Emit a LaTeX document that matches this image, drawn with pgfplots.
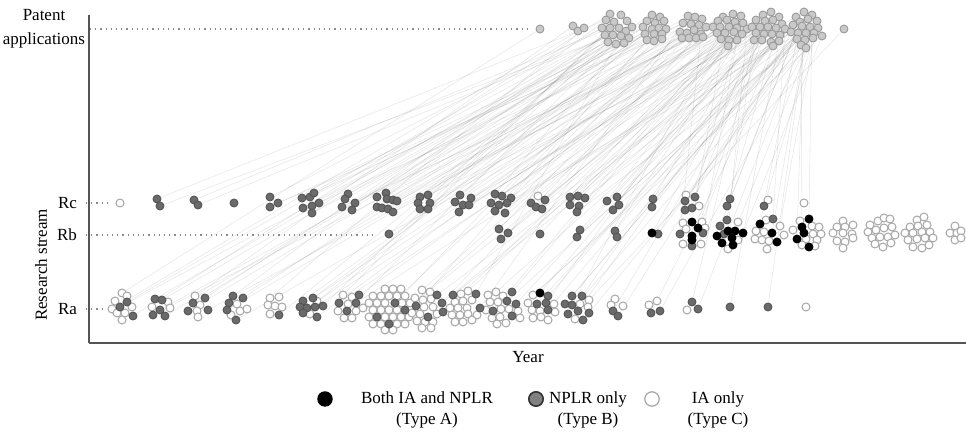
\documentclass[border=0pt]{standalone}
\usepackage{pgfplots}
\pgfplotsset{compat=1.18}
\usepackage{fontspec}
\setmainfont{Liberation Serif}
\definecolor{pfill}{HTML}{C9C9C9}
\definecolor{pedge}{HTML}{9A9A9A}
\definecolor{bfill}{HTML}{6A6A6A}
\definecolor{bedge}{HTML}{555555}
\definecolor{cedge}{HTML}{A6A6A6}
\definecolor{axcol}{HTML}{555555}
\definecolor{dotcol}{HTML}{8A8A8A}
\begin{document}
\begin{tikzpicture}
\begin{axis}[
  scale only axis, width=438.5pt, height=164pt,
  xmin=89, xmax=966, ymin=89, ymax=417,
  axis lines=left, axis line style={-, draw=axcol, line width=0.6pt},
  xtick=\empty, ytick=\empty, clip=false,
  font=\fontsize{8.5}{10}\selectfont,
]
% connecting lines (research item -> patent application)
\addplot[quiver={u=\thisrow{x2}-\thisrow{x1}, v=\thisrow{y1}-\thisrow{y2},
  every arrow/.append style={draw=black, opacity=0.09, line width=0.3pt}},
  draw=black, opacity=0.09, line width=0.3pt]
 table[x=x1, y expr=432-\thisrow{y1}] {
x1 y1 x2 y2
157 199 606 20
160 206 613 35
194 200 610 28
198 205 647 21
270 197 614 22
270 207 652 29
278 203 691 24
302 198 619 28
310 197 659 28
314 193 683 23
319 203 723 17
303 208 626 31
312 213 654 34
348 194 621 36
345 199 664 21
355 203 701 34
342 207 729 27
352 210 605 35
377 197 632 27
386 193 660 17
387 199 694 30
393 200 718 21
397 201 756 20
377 207 645 34
382 208 689 38
388 209 725 33
393 212 764 34
420 197 627 21
428 195 662 34
418 203 699 25
430 203 735 22
420 209 760 27
428 209 608 42
460 195 655 23
455 202 687 33
463 205 720 27
469 205 773 20
471 198 796 17
459 212 742 34
495 194 622 42
502 196 666 29
511 198 702 19
491 203 737 28
499 205 768 27
507 203 802 26
495 211 810 27
505 213 680 32
545 200 696 38
531 203 725 33
536 207 752 27
542 209 791 32
570 197 733 14
578 196 779 17
585 198 817 21
570 205 747 29
579 206 762 40
577 212 805 40
607 201 743 23
617 197 785 29
619 205 806 33
613 210 729 40
653 199 763 15
652 207 798 33
695 197 771 12
685 201 812 15
692 208 737 40
685 210 756 33
730 199 800 22
727 206 773 46
764 206 813 38
127 302 602 28
120 307 643 27
133 316 610 14
155 299 619 28
162 300 652 15
160 310 683 23
153 315 713 27
165 316 616 44
205 298 627 21
193 303 660 17
188 311 688 16
208 310 717 33
233 296 606 20
243 298 645 34
229 303 680 32
227 310 723 17
236 320 752 27
279 315 632 27
303 301 662 39
313 298 695 17
300 307 720 27
307 308 741 16
315 307 756 20
323 306 610 28
303 313 652 29
317 317 701 34
359 295 734 32
339 303 765 21
356 303 793 25
347 311 626 31
395 303 654 34
377 317 691 24
389 324 729 27
405 310 760 27
437 295 800 22
416 306 647 40
428 317 706 27
443 312 743 23
442 303 776 28
453 295 808 19
476 294 621 36
480 308 683 23
512 292 737 28
516 304 768 27
507 301 797 39
512 316 818 28
493 311 721 39
540 293 754 40
548 296 796 17
537 304 804 12
546 303 737 40
548 310 780 35
572 296 812 15
582 296 762 40
565 304 798 33
572 305 727 20
578 311 782 24
568 314 814 33
589 313 806 48
613 311 771 42
618 316 802 26
651 313 791 32
660 311 818 28
692 302 756 33
698 309 801 45
730 307 779 41
768 307 805 40
122 293 540 29
112 309 578 31
195 296 573 26
270 298 584 28
343 295 621 15
422 290 733 14
468 291 763 15
496 292 773 46
533 295 822 36
589 300 844 29
389 234 605 35
499 229 694 30
508 233 729 40
501 239 760 27
540 234 734 32
580 230 764 34
577 237 806 33
615 231 742 34
617 237 810 27
652 233 768 27
658 234 801 45
692 222 725 33
698 228 762 40
680 234 701 34
703 233 737 40
692 246 773 46
727 220 756 33
720 226 800 22
728 231 747 29
735 231 814 33
743 233 822 36
760 224 797 39
773 219 785 29
772 233 805 40
809 219 812 15
802 227 801 45
797 239 804 12
777 242 817 21
};
% dotted guide lines
\addplot[dotted, draw=dotcol, line width=0.6pt] coordinates {(90,403) (527,403)};
\addplot[dotted, draw=dotcol, line width=0.6pt] coordinates {(86,229) (108,229)};
\addplot[dotted, draw=dotcol, line width=0.6pt] coordinates {(86,197) (376,197)};
\addplot[dotted, draw=dotcol, line width=0.6pt] coordinates {(86,123) (102,123)};
% patent applications
\addplot[only marks, mark=*, mark size=2pt, mark options={fill=pfill, draw=pedge, line width=0.45pt}]
 table[y expr=432-\thisrow{y}] {
x y
540 29
573 26
578 31
584 28
610 14
621 15
606 20
614 22
627 21
602 28
610 28
619 28
626 31
632 27
605 35
613 35
621 36
629 38
608 42
616 44
624 43
652 15
660 17
647 21
655 23
664 21
643 27
652 29
659 28
666 29
645 34
654 34
662 34
647 40
654 41
662 39
688 16
695 17
702 19
683 23
691 24
699 25
706 27
680 32
687 33
694 30
701 34
682 38
689 38
696 38
703 37
723 17
733 14
741 16
718 21
727 20
735 22
743 23
713 27
720 27
729 27
737 28
747 29
717 33
725 33
734 32
742 34
721 39
729 40
737 40
728 46
763 15
771 12
779 17
756 20
765 21
773 20
782 24
752 27
760 27
768 27
776 28
785 29
756 33
764 34
772 34
780 35
754 40
762 40
771 42
779 41
773 46
796 17
804 12
812 15
800 22
808 19
817 21
793 25
802 26
810 27
818 28
791 32
798 33
806 33
814 33
822 36
797 39
805 40
813 38
801 45
806 48
844 29
};
% IA only (Type C)
\addplot[only marks, mark=*, mark size=2pt, mark options={fill=white, draw=cedge, line width=0.5pt}]
 table[y expr=432-\thisrow{y}] {
x y
120 203
538 196
686 195
699 206
768 200
804 203
122 293
127 296
115 301
112 309
132 307
117 313
125 313
122 320
168 302
152 307
170 308
195 296
200 305
197 311
198 317
237 304
240 311
247 309
231 315
270 298
279 297
268 305
275 306
282 307
270 314
317 301
310 314
343 295
352 297
348 304
363 308
338 311
356 311
344 318
352 318
385 289
393 289
401 289
373 296
381 296
389 296
397 296
405 296
369 303
377 303
385 303
402 303
410 303
373 310
381 310
389 310
397 310
369 317
385 317
393 317
401 317
409 317
373 324
381 324
397 324
405 324
385 330
393 330
422 290
430 292
415 298
423 300
431 299
424 307
433 307
412 313
420 314
437 314
417 321
425 322
433 322
422 328
431 328
461 294
468 291
455 302
463 301
472 300
450 308
458 308
467 308
452 315
460 315
468 314
477 315
455 322
463 322
472 320
488 295
496 292
503 296
490 302
498 302
486 310
501 309
509 309
518 311
492 318
500 317
506 323
497 324
520 318
533 295
528 303
554 304
532 310
540 311
555 312
533 318
541 317
548 320
589 300
580 304
588 307
575 319
615 299
611 305
623 306
657 301
649 305
687 310
806 307
683 223
702 222
686 229
683 244
701 244
705 228
738 222
738 240
728 249
766 220
780 226
756 231
764 232
784 235
755 239
762 240
769 241
767 249
800 221
812 226
819 227
813 234
821 234
806 239
817 240
802 245
815 246
793 230
843 221
837 227
845 227
853 225
833 233
843 233
852 234
837 241
845 242
853 238
843 248
870 225
878 221
884 218
890 219
868 232
876 230
884 228
892 227
872 238
880 237
888 237
895 235
875 244
883 247
891 243
917 220
924 217
910 227
918 226
927 225
905 233
913 233
922 232
930 232
908 240
917 239
925 238
933 238
913 247
922 248
929 245
955 226
950 233
957 233
961 231
955 240
961 238
};
% NPLR only (Type B)
\addplot[only marks, mark=*, mark size=2pt, mark options={fill=bfill, draw=bedge, line width=0.45pt}]
 table[y expr=432-\thisrow{y}] {
x y
157 199
160 206
194 200
198 205
234 203
270 197
270 207
278 203
302 198
310 197
314 193
319 203
303 208
312 206
312 213
348 194
345 199
355 203
342 207
352 210
377 197
386 193
387 199
393 200
397 201
377 207
382 208
388 209
393 212
420 197
428 195
418 203
430 203
420 209
428 209
460 195
455 202
463 205
469 205
471 198
459 212
495 194
502 196
511 198
491 203
499 205
507 203
495 211
505 213
545 200
531 203
536 207
542 209
570 197
578 196
585 198
570 205
579 206
577 212
607 201
617 197
619 205
613 210
653 199
652 207
695 197
685 201
692 208
685 210
730 199
727 206
764 206
389 234
499 229
508 233
501 239
540 234
580 230
577 237
615 231
617 237
658 234
680 234
703 233
692 246
727 220
720 226
724 234
773 219
127 302
120 307
133 316
155 299
162 300
160 310
153 315
165 316
205 298
193 303
188 311
208 310
233 296
243 298
229 303
227 310
236 320
279 315
303 301
313 298
300 307
307 308
315 307
323 306
303 313
317 317
359 295
339 303
356 303
347 311
395 303
405 310
377 317
389 324
437 295
442 303
416 306
428 317
443 312
453 295
476 294
480 308
512 292
507 301
516 304
493 311
512 316
548 296
537 304
546 303
548 310
572 296
582 296
565 304
572 305
568 314
578 311
589 313
583 320
613 311
618 316
651 313
660 311
692 302
698 309
730 307
768 307
};
% Both IA and NPLR (Type A)
\addplot[only marks, mark=*, mark size=2pt, mark options={fill=black, draw=black, line width=0.45pt}]
 table[y expr=432-\thisrow{y}] {
x y
540 293
652 233
692 222
698 228
692 236
692 240
728 231
735 231
743 233
717 236
732 238
722 243
733 245
760 224
772 233
777 242
809 219
802 227
804 233
797 239
809 247
};
% legend markers
\addplot[only marks, mark=*, mark size=3.6pt, mark options={fill=black, draw=black, line width=0.5pt}] coordinates {(325,33)};
\addplot[only marks, mark=*, mark size=3.6pt, mark options={fill=bfill!85, draw=black!80, line width=0.8pt}] coordinates {(536,33)};
\addplot[only marks, mark=*, mark size=3.6pt, mark options={fill=white, draw=cedge, line width=0.6pt}] coordinates {(652,33)};
% labels
\node[align=center, font=\fontsize{8.5}{12}\selectfont] at (axis cs:44,403) {Patent\\applications};
\node[anchor=east] at (axis cs:84,229) {Rc};
\node[anchor=east] at (axis cs:84,197) {Rb};
\node[anchor=east] at (axis cs:84,123) {Ra};
\node[rotate=90] at (axis cs:41,167) {Research stream};
\node at (axis cs:528,75) {Year};
\node[align=center, font=\fontsize{8.5}{10.5}\selectfont] at (axis cs:427,22) {Both IA and NPLR\\(Type A)};
\node[align=center, font=\fontsize{8.5}{10.5}\selectfont] at (axis cs:588,22) {NPLR only\\(Type B)};
\node[align=center, font=\fontsize{8.5}{10.5}\selectfont] at (axis cs:718,22) {IA only\\(Type C)};
\coordinate (bbsw) at (axis cs:0,0);
\coordinate (bbne) at (axis cs:966,432);
\end{axis}
\pgfresetboundingbox
\path (bbsw) rectangle (bbne);
\end{tikzpicture}
\end{document}
